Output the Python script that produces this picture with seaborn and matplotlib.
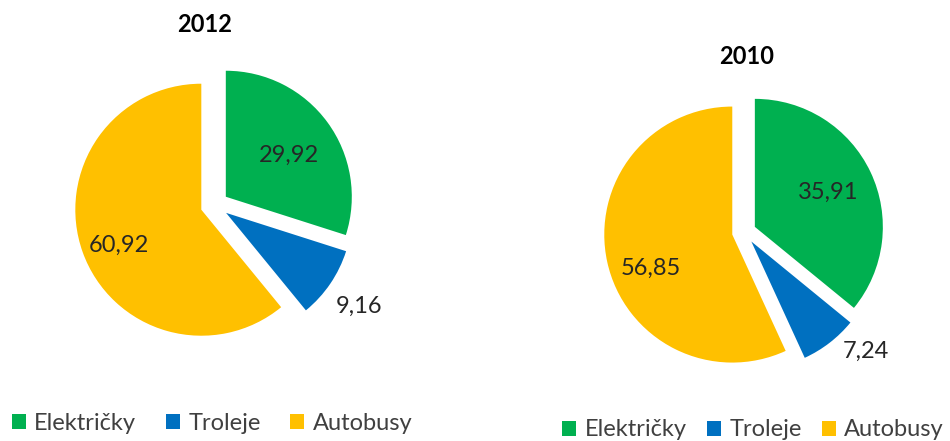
import matplotlib
matplotlib.use("Agg")
import numpy as np
import matplotlib.pyplot as plt
from matplotlib.patches import Patch
import seaborn as sns

# Modal split of public transport (%)
categories = ["Električky", "Troleje", "Autobusy"]
years = ["2012", "2010"]
shares_2012 = [29.92, 9.16, 60.92]
shares_2010 = [35.91, 7.24, 56.85]

sns.set_theme(style="white")
plt.rcParams["font.family"] = ["Lato", "DejaVu Sans"]
palette = sns.color_palette(["#00B050", "#0070C0", "#FFC000"])

W, H = 950, 441
fig = plt.figure(figsize=(W / 100, H / 100), dpi=100)
ax = fig.add_axes([0, 0, 1, 1])

# layout of each pie (pixel space, y measured from the top)
pies = [
    dict(values=shares_2012, title=years[0], cx=214.5, cy=205, r=126, expl=14,
         title_xy=(205, 25), legend_xy=(212, 423), colsp=1.25,
         lab=[(0.60, -3), (1.29, -1), (0.71, 4)]),
    dict(values=shares_2010, title=years[1], cx=744, cy=232, r=128, expl=12,
         title_xy=(747, 57), legend_xy=(753, 430), colsp=0.85,
         lab=[(0.63, 0), (1.24, 8.6), (0.69, 10)]),
]

for p in pies:
    vals = p["values"]
    wedges, _ = ax.pie(vals, colors=palette, startangle=90, counterclock=False,
                       explode=[p["expl"]] * len(vals), radius=p["r"],
                       center=(p["cx"], H - p["cy"]), frame=True,
                       wedgeprops=dict(linewidth=0))
    for w, v, (f, dth) in zip(wedges, vals, p["lab"]):
        th = np.deg2rad((w.theta1 + w.theta2) / 2 + dth)
        x = w.center[0] + f * w.r * np.cos(th)
        y = w.center[1] + f * w.r * np.sin(th)
        ax.text(x, y, f"{v:.2f}".replace(".", ","), ha="center", va="center",
                fontsize=17, color="#262626")
    tx, ty = p["title_xy"]
    ax.text(tx, H - ty, p["title"], ha="center", va="center", fontsize=17,
            fontweight="bold", color="black")
    handles = [Patch(facecolor=c, edgecolor="none") for c in palette]
    lx, ly = p["legend_xy"]
    fig.legend(handles, categories, loc="center", ncol=3,
               bbox_to_anchor=(lx / W, 1 - ly / H),
               bbox_transform=fig.transFigure, frameon=False,
               fontsize=17, handlelength=0.6, handleheight=0.6,
               handletextpad=0.35, columnspacing=p["colsp"], borderpad=0,
               borderaxespad=0, labelcolor="#404040")

ax.set_xlim(0, W)
ax.set_ylim(0, H)
ax.set_aspect("equal")
ax.axis("off")

fig.savefig("out.png", dpi=100, facecolor="white")
